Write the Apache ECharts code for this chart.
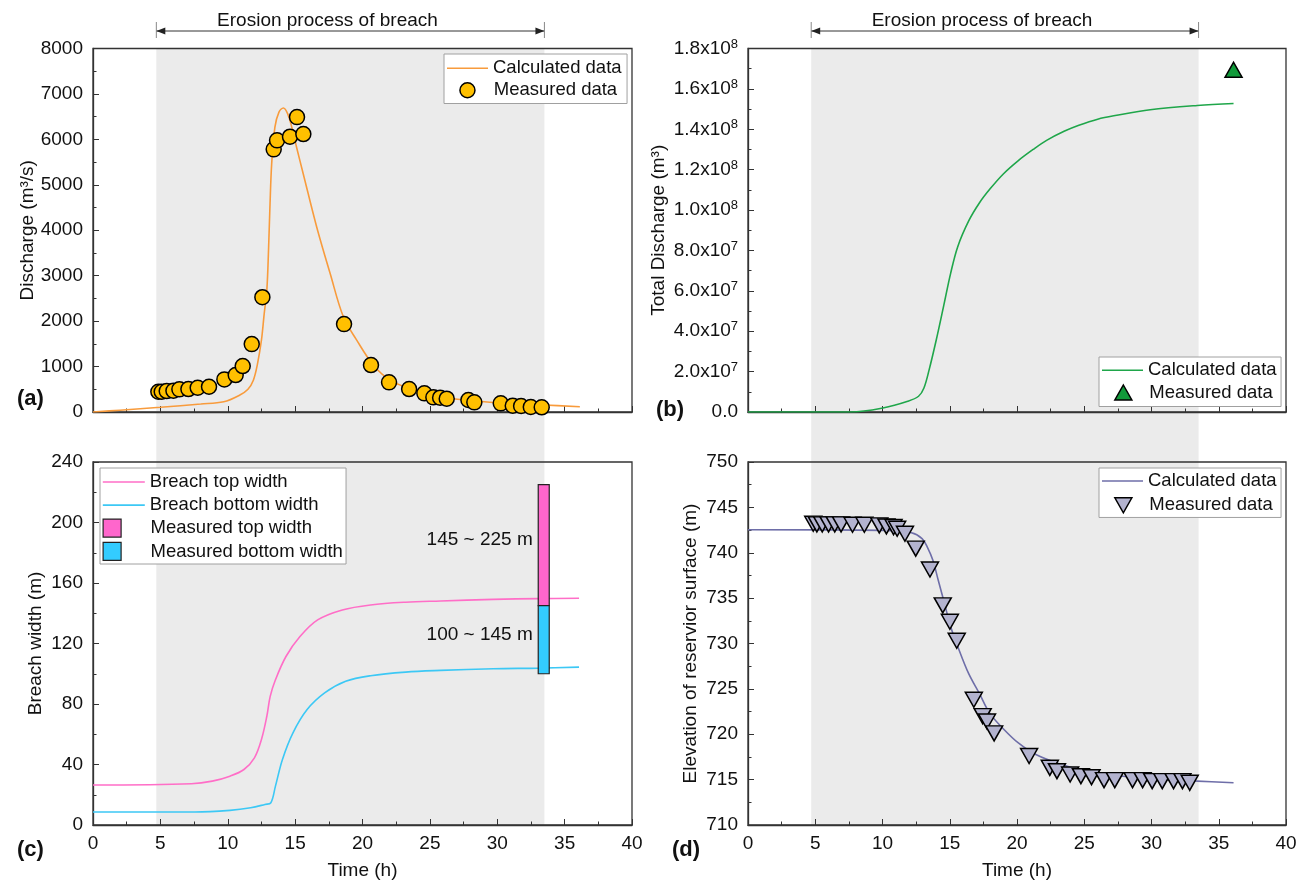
<!DOCTYPE html>
<html lang="en">
<head>
<meta charset="UTF-8">
<title>Breach erosion</title>
<script src="https://cdn.jsdelivr.net/npm/echarts@6.0.0/dist/echarts.min.js"></script>
<style>
    html, body { margin: 0; padding: 0; background: #fff; }
    #main { width: 1314px; height: 886px; }
</style>
</head>
<body>
<div id="main"></div>
<script>
// (a) discharge, m3/s
var qCalc = [[0,0],[2,40],[5,103],[8,175],[9.7,226],[10.9,374],[11.5,500],[11.9,700],[12.2,1050],[12.5,1580],
    [12.7,2150],[12.9,2680],[13.03,3600],[13.13,4510],[13.26,5465],[13.5,6270],[13.8,6600],[14.13,6690],
    [14.45,6560],[14.75,6270],[15.13,5800],[15.6,5245],[16.6,4073],[17.6,3048],[18.58,2095],[19.57,1582],
    [20.8,1033],[22.03,703],[23.53,520],[25.73,337],[28.23,249],[30.73,190],[33.43,154],[36.13,117]];
var qMeas = [[4.85,446],[5.1,446],[5.47,461],[5.97,468],[6.41,498],[7.08,505],[7.77,534],[8.61,556],[9.75,718],
    [10.59,813],[11.11,1011],[11.78,1494],[12.57,2527],[13.41,5780],[13.66,5978],[14.62,6059],[15.14,6490],
    [15.61,6117],[18.63,1934],[20.63,1033],[21.97,652],[23.46,505],[24.59,410],[25.26,322],[25.76,315],
    [26.25,293],[27.86,264],[28.3,212],[30.26,190],[31.15,139],[31.77,132],[32.49,110],[33.3,103]];

// (b) total discharge, m3
var vCalc = [[0,0],[7.64,0],[10.03,1.98e6],[11.88,5.3e6],[12.68,7.8e6],[13.08,1.19e7],[13.47,2.1e7],[14.0,3.58e7],
    [14.54,5.23e7],[15.07,6.88e7],[15.6,8.2e7],[16.4,9.45e7],[17.2,1.035e8],[18.0,1.105e8],[19.0,1.18e8],
    [20.1,1.245e8],[21.2,1.3e8],[22.2,1.345e8],[23.5,1.39e8],[24.6,1.42e8],[26.0,1.45e8],[27.3,1.468e8],
    [29.9,1.497e8],[33.4,1.518e8],[36.1,1.528e8]];
var vMeas = [[36.1,1.695e8]];

// (c) breach width, m
var topWidth = [[0,26.4],[7.3,27.3],[8.85,29],[10.16,32.3],[11.2,36.7],[11.98,44.4],[12.5,56.5],[12.9,71.9],
    [13.15,85],[13.54,96],[14.32,111.4],[15.36,124.6],[16.67,135.6],[18.5,142.2],[20.6,145.5],[23.2,147.3],
    [25.8,148.1],[29.7,149.2],[33.1,149.7],[36.07,149.9]];
var bottomWidth = [[0,8.6],[7.55,8.6],[10.16,9.7],[11.7,11.4],[12.76,13.6],[13.2,14.7],[13.54,25.7],[14.06,43.3],
    [14.84,60.9],[15.89,76.3],[17.19,87.3],[18.75,95],[20.6,98.7],[23.2,101.1],[25.8,102.2],[29.7,103.3],
    [33.1,103.7],[36.07,104.4]];
var topRange = [[33.45, 145, 225]];
var bottomRange = [[33.45, 100, 145]];
var rangeLabels = ['145 ~ 225 m', '100 ~ 145 m'];

// (d) reservoir elevation, m
var hCalc = [[0,742.54],[10.03,742.47],[12.15,742.2],[12.94,741.55],[13.34,740.6],[13.74,739.2],[14.14,737.0],
    [14.54,734.8],[15.07,731.85],[15.6,729.65],[16.4,726.7],[17.2,724.5],[17.98,722.3],[19.05,720.5],
    [20.1,719.04],[21.4,717.76],[23.3,716.66],[25.1,715.93],[27.3,715.45],[29.9,715.09],[33.4,714.83],[36.1,714.65]];
var hMeas = [[4.85,743.2],[5.12,743.13],[5.52,743.13],[5.99,743.13],[6.45,743.13],[6.92,743.13],[7.77,743.09],
    [8.65,743.09],[9.76,743.02],[10.29,742.9],[10.82,742.83],[11.09,742.65],[11.67,742.1],[12.47,740.45],
    [13.53,738.15],[14.48,734.2],[15.01,732.4],[15.52,730.3],[16.79,723.8],[17.45,722.0],[17.77,721.4],
    [18.3,720.1],[20.9,717.6],[22.44,716.3],[22.97,715.93],[23.95,715.56],[24.75,715.38],[25.54,715.27],
    [26.47,714.94],[27.27,714.94],[28.59,714.94],[29.34,714.94],[30.05,714.83],[30.8,714.83],[31.64,714.83],
    [32.3,714.83],[32.84,714.65]];

// erosion period (h) and where its caption sits
var erosion = [[4.7, 33.5]];
var captionAt = 17.4;

var FONT = 'Liberation Sans';
var INK = '#111';
var chart = echarts.init(document.getElementById('main'));

function timeAxis(grid, labels) {
    return {
        type: 'value', gridIndex: grid, min: 0, max: 40, interval: 5,
        name: labels ? 'Time (h)' : '', nameLocation: 'middle', nameGap: 36, nameMoveOverlap: false,
        nameTextStyle: { fontSize: 19, color: INK, fontFamily: FONT },
        axisLine: { onZero: false, lineStyle: { color: '#333', width: 1.3 } },
        axisTick: { inside: true, length: 6, lineStyle: { color: '#333' } },
        minorTick: { show: true, splitNumber: 2, length: 3.5, lineStyle: { color: '#333' } },
        axisLabel: { show: labels, margin: 9, fontSize: 19, color: INK, fontFamily: FONT,
            formatter: function (v) { return String(v); } },
        splitLine: { show: false }
    };
}

function plainLabel(v) { return String(v); }

function valueAxis(grid, min, max, step, name, gap, fmt) {
    return {
        type: 'value', gridIndex: grid, min: min, max: max, interval: step,
        name: name, nameLocation: 'middle', nameGap: gap, nameMoveOverlap: false,
        nameTextStyle: { fontSize: 19, color: INK, fontFamily: FONT },
        axisLine: { onZero: false, lineStyle: { color: '#333', width: 1.3 } },
        axisTick: { inside: true, length: 6, lineStyle: { color: '#333' } },
        minorTick: { show: true, splitNumber: 2, length: 3.5, lineStyle: { color: '#333' } },
        axisLabel: {
            margin: 10, fontSize: 19, color: INK, fontFamily: FONT, formatter: fmt || plainLabel,
            rich: { sup: { fontSize: 13, color: INK, fontFamily: FONT, verticalAlign: 'bottom', padding: [0, 0, 9, 0] } }
        },
        splitLine: { show: false }
    };
}

function sciLabel(v) {
    if (v === 0) return '0.0';
    var e = Math.floor(Math.log10(v) + 1e-9);
    return (v / Math.pow(10, e)).toFixed(1) + 'x10{sup|' + e + '}';
}

function hiddenAxis(grid, isX) {
    return { type: 'value', gridIndex: grid, min: 0, max: isX ? 40 : 1, show: false };
}

function stripName(n) { return n.split('@')[0]; }

var legendText = { fontSize: 18.5, color: INK, fontFamily: FONT };

function lineLegend(left, top, pad, width, gap, items) {
    return {
        orient: 'vertical', left: left, top: top, padding: pad, itemWidth: width, itemHeight: 1.6,
        itemGap: gap, icon: 'rect', data: items, selectedMode: false, formatter: stripName,
        backgroundColor: '#fff', borderColor: '#a0a0a0', borderWidth: 1, borderRadius: 0,
        textStyle: legendText
    };
}

function markLegend(left, top, w, h, gap, shift, items) {
    return {
        orient: 'vertical', left: left, top: top, padding: 0, itemWidth: w, itemHeight: h,
        itemGap: gap, data: items, selectedMode: false, formatter: stripName, z: 6,
        textStyle: { fontSize: 18.5, color: INK, fontFamily: FONT, padding: [0, 0, 0, shift] }
    };
}

var downTri = 'path://M0,0 L17,0 L8.5,15 Z';

function shadeItem(params, api) {
    var a = api.coord([api.value(0), 1]);
    var b = api.coord([api.value(1), 0]);
    return { type: 'rect', shape: { x: a[0], y: a[1], width: b[0] - a[0], height: b[1] - a[1] },
        style: { fill: '#ebebeb' } };
}

function rangeItem(color, labelIndex) {
    return function (params, api) {
        var lo = api.coord([api.value(0), api.value(1)]);
        var hi = api.coord([api.value(0), api.value(2)]);
        return { type: 'group', children: [
            { type: 'rect', shape: { x: lo[0] - 5.5, y: hi[1], width: 11, height: lo[1] - hi[1] },
              style: { fill: color, stroke: '#222', lineWidth: 1.2 } },
            { type: 'text', x: lo[0] - 11, y: (lo[1] + hi[1]) / 2 - 5,
              style: { text: rangeLabels[labelIndex], align: 'right', verticalAlign: 'middle',
                       font: '19px "' + FONT + '"', fill: INK } }
        ] };
    };
}

function panelTag(letter, left, top) {
    return {
        text: '{p|(}{b|' + letter + '}{p|)}', left: left, top: top, padding: 0,
        textStyle: { rich: {
            p: { fontSize: 22, color: INK, fontFamily: FONT },
            b: { fontSize: 22, color: INK, fontFamily: FONT, fontWeight: 'bold' }
        } }
    };
}

function curve(name, axis, data, color) {
    return { type: 'line', name: name, xAxisIndex: axis, yAxisIndex: axis, data: data, symbol: 'none',
        smooth: 0.35, lineStyle: { color: color, width: 1.6 }, itemStyle: { color: color } };
}

var option = {
    backgroundColor: '#fff',
    animation: false,
    textStyle: { fontFamily: FONT },
    title: [panelTag('a', 17, 388), panelTag('b', 656, 399), panelTag('c', 17, 839), panelTag('d', 672, 839)],
    grid: [
        { left: 93, top: 48.5, width: 539, height: 363.5, show: true, borderColor: '#333', borderWidth: 1.3, outerBoundsMode: 'none' },
        { left: 748, top: 48.5, width: 538, height: 363.5, show: true, borderColor: '#333', borderWidth: 1.3, outerBoundsMode: 'none' },
        { left: 93, top: 462, width: 539, height: 363, show: true, borderColor: '#333', borderWidth: 1.3, outerBoundsMode: 'none' },
        { left: 748, top: 462, width: 538, height: 363, show: true, borderColor: '#333', borderWidth: 1.3, outerBoundsMode: 'none' },
        { left: 93, top: 48.5, width: 539, height: 776.5, outerBoundsMode: 'none' },
        { left: 748, top: 48.5, width: 538, height: 776.5, outerBoundsMode: 'none' }
    ],
    xAxis: [timeAxis(0, false), timeAxis(1, false), timeAxis(2, true), timeAxis(3, true),
        hiddenAxis(4, true), hiddenAxis(5, true)],
    yAxis: [
        valueAxis(0, 0, 8000, 1000, 'Discharge (m³/s)', 56),
        valueAxis(1, 0, 1.8e8, 2e7, 'Total Discharge (m³)', 80, sciLabel),
        valueAxis(2, 0, 240, 40, 'Breach width (m)', 48),
        valueAxis(3, 710, 750, 5, 'Elevation of reservior surface (m)', 48),
        hiddenAxis(4, false), hiddenAxis(5, false)
    ],
    legend: [
        lineLegend(444, 54, [4.75, 5.5, 25.75, 3], 41, 4, [{ name: 'Calculated data@a', itemStyle: { color: '#f89b3c' } }]),
        markLegend(459.2, 80.75, 15, 15, 4, 13.8, [{ name: 'Measured data@a', icon: 'circle',
            itemStyle: { color: '#ffc000', borderColor: '#000', borderWidth: 1.5 } }]),
        lineLegend(1099, 357, [3.75, 4.5, 26.75, 3], 41, 4, [{ name: 'Calculated data@b', itemStyle: { color: '#1fa64a' } }]),
        markLegend(1114.1, 383, 17, 15, 4, 12.5, [{ name: 'Measured data@b', icon: 'triangle',
            itemStyle: { color: '#119a3a', borderColor: '#000', borderWidth: 1.5 } }]),
        lineLegend(100, 468, [4.45, 27.6, 49.35, 2.8], 42, 4.2, [
            { name: 'Breach top width@c', itemStyle: { color: '#ff6ec7' } },
            { name: 'Breach bottom width@c', itemStyle: { color: '#3cc8f5' } }]),
        markLegend(102.5, 518.45, 18, 18, 4.2, 24.5, [
            { name: 'Measured top width@c', icon: 'rect', itemStyle: { color: '#ff66cc', borderColor: '#222', borderWidth: 1.2 } },
            { name: 'Measured bottom width@c', icon: 'rect', itemStyle: { color: '#33ccff', borderColor: '#222', borderWidth: 1.2 } }]),
        lineLegend(1099, 468, [3.45, 4.5, 27, 3], 41, 4, [{ name: 'Calculated data@d', itemStyle: { color: '#6e6ea8' } }]),
        markLegend(1114.1, 495.75, 17, 15, 4, 12.5, [{ name: 'Measured data@d', icon: downTri,
            itemStyle: { color: '#b3b3cf', borderColor: '#000', borderWidth: 1.5 } }])
    ],
    series: [
        { type: 'custom', name: 'shade-left', xAxisIndex: 4, yAxisIndex: 4, z: -10, silent: true,
          data: erosion, renderItem: shadeItem },
        { type: 'custom', name: 'shade-right', xAxisIndex: 5, yAxisIndex: 5, z: -10, silent: true,
          data: erosion, renderItem: shadeItem },

        curve('Calculated data@a', 0, qCalc, '#f89b3c'),
        { type: 'scatter', name: 'Measured data@a', xAxisIndex: 0, yAxisIndex: 0, data: qMeas, symbol: 'circle',
          symbolSize: 15, z: 3, itemStyle: { color: '#ffc000', borderColor: '#000', borderWidth: 1.5, opacity: 1 } },

        curve('Calculated data@b', 1, vCalc, '#1fa64a'),
        { type: 'scatter', name: 'Measured data@b', xAxisIndex: 1, yAxisIndex: 1, data: vMeas, symbol: 'triangle',
          symbolSize: [17, 15], z: 3, itemStyle: { color: '#119a3a', borderColor: '#000', borderWidth: 1.5, opacity: 1 } },

        curve('Breach top width@c', 2, topWidth, '#ff6ec7'),
        curve('Breach bottom width@c', 2, bottomWidth, '#3cc8f5'),
        { type: 'custom', name: 'Measured top width@c', xAxisIndex: 2, yAxisIndex: 2, z: 4, data: topRange,
          renderItem: rangeItem('#ff66cc', 0), itemStyle: { color: '#ff66cc' } },
        { type: 'custom', name: 'Measured bottom width@c', xAxisIndex: 2, yAxisIndex: 2, z: 4, data: bottomRange,
          renderItem: rangeItem('#33ccff', 1), itemStyle: { color: '#33ccff' } },

        curve('Calculated data@d', 3, hCalc, '#6e6ea8'),
        { type: 'scatter', name: 'Measured data@d', xAxisIndex: 3, yAxisIndex: 3, data: hMeas, symbol: 'triangle',
          symbolRotate: 180, symbolSize: [17, 15], z: 3,
          itemStyle: { color: '#b3b3cf', borderColor: '#000', borderWidth: 1.5, opacity: 1 } }
    ]
};
chart.setOption(option);

// "Erosion process of breach" arrows above both columns
var extras = [];
[4, 5].forEach(function (ax) {
    var x1 = chart.convertToPixel({ xAxisIndex: ax }, erosion[0][0]);
    var x2 = chart.convertToPixel({ xAxisIndex: ax }, erosion[0][1]);
    var xc = chart.convertToPixel({ xAxisIndex: ax }, captionAt);
    var y = 31;
    extras.push(
        { type: 'line', shape: { x1: x1, y1: y, x2: x2, y2: y }, style: { stroke: '#333', lineWidth: 1 } },
        { type: 'line', shape: { x1: x1, y1: 22, x2: x1, y2: 38 }, style: { stroke: '#888', lineWidth: 1 } },
        { type: 'line', shape: { x1: x2, y1: 22, x2: x2, y2: 38 }, style: { stroke: '#888', lineWidth: 1 } },
        { type: 'polygon', shape: { points: [[x1, y], [x1 + 9, y - 3.5], [x1 + 9, y + 3.5]] }, style: { fill: '#222' } },
        { type: 'polygon', shape: { points: [[x2, y], [x2 - 9, y - 3.5], [x2 - 9, y + 3.5]] }, style: { fill: '#222' } },
        { type: 'text', x: xc, y: 20.5, style: { text: 'Erosion process of breach', align: 'center',
            verticalAlign: 'middle', font: '19px "' + FONT + '"', fill: INK } }
    );
});
chart.setOption({ graphic: extras });
</script>
</body>
</html>
